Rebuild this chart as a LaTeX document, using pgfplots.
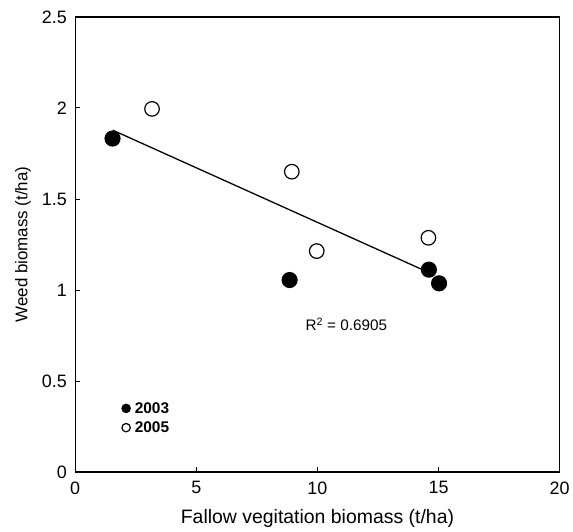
\documentclass[border=0pt]{standalone}
\usepackage{fontspec}
\setmainfont{Liberation Sans}
\usepackage{pgfplots}
\pgfplotsset{compat=1.18}
\begin{document}
\begin{tikzpicture}[x=1pt,y=1pt]
\begin{axis}[
  scale only axis,
  width=486.2pt, height=456.8pt,
  xmin=0, xmax=20, ymin=0, ymax=2.5,
  xtick={0,5,10,15,20},
  ytick={0,0.5,1,1.5,2,2.5},
  tick align=inside,
  xtick pos=bottom, ytick pos=left,
  major tick length=5pt,
  axis line style={line width=1.3pt},
  tick style={line width=1pt, black},
  /pgf/number format/assume math mode=true,
  tick label style={font=\fontsize{18}{20}\selectfont},
  xticklabel style={yshift=-6pt},
  yticklabel style={xshift=-5pt},
  xlabel={Fallow vegitation biomass (t/ha)},
  ylabel={Weed biomass (t/ha)},
  xlabel style={font=\fontsize{19.5}{22}\selectfont, yshift=-8pt},
  ylabel style={font=\fontsize{17}{20}\selectfont, yshift=4pt},
  legend style={at={(axis cs:1.92,0.393)}, anchor=north west, draw=none, fill=none,
    font=\bfseries\fontsize{15.5}{17}\selectfont, inner sep=0pt, row sep=4pt,
    nodes={inner sep=1.5pt}},
  legend cell align=left,
  legend image code/.code={\draw[#1, mark size=4.2pt] plot coordinates {(0.12cm,0cm)};},
  /tikz/every odd column/.append style={column sep=3pt},
]
\addplot[only marks, mark=*, mark size=7.5pt, draw=black, fill=black, line width=1.2pt]
  coordinates {(1.54,1.832) (8.85,1.055) (14.60,1.112) (15.02,1.037)};
\addlegendentry{2003}
\addplot[only marks, mark=*, mark size=7.3pt, draw=black, fill=white, line width=1.2pt]
  coordinates {(3.17,1.995) (8.94,1.650) (9.97,1.214) (14.58,1.287)};
\addlegendentry{2005}
\addplot[black, line width=1.3pt, forget plot] coordinates {(1.55,1.878) (14.6,1.096)};
\node[anchor=base west, inner sep=0pt, font=\fontsize{15.3}{17}\selectfont] at (axis cs:9.5,0.778) {R\textsuperscript{2} = 0.6905};
\end{axis}
\path ([xshift=-75.5pt,yshift=-59.2pt]current axis.south west) rectangle ([xshift=11.3pt,yshift=17pt]current axis.north east);
\end{tikzpicture}
\end{document}
